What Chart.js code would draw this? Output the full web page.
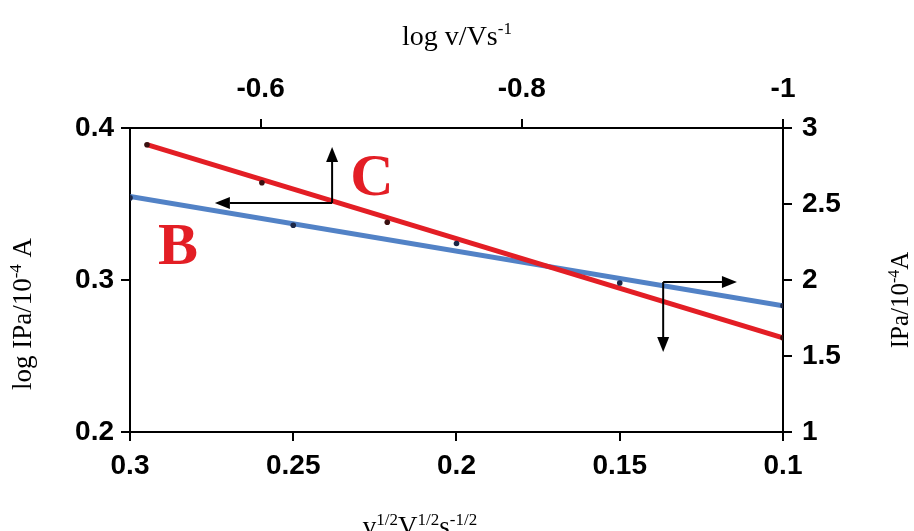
<!DOCTYPE html>
<html>
<head>
<meta charset="utf-8">
<script src="https://cdn.jsdelivr.net/npm/chart.js@4.4.1/dist/chart.umd.min.js"></script>
<style>
  html, body { margin: 0; padding: 0; background: #fff; }
  #wrap { width: 914px; height: 531px; }
</style>
</head>
<body>
<div id="wrap"><canvas id="plot"></canvas></div>
<script>
// curve B : IPa vs v^1/2 (bottom x, right y)
const sqrtRate = [0.3, 0.25, 0.2, 0.15, 0.1];
const peakCurrent = [2.54, 2.36, 2.24, 1.98, 1.83];
// curve C : log IPa vs log v (top x, left y)
const logRate = [-0.513, -0.601, -0.697, -1.0];
const logPeak = [0.389, 0.364, 0.338, 0.262];
// trend line ends
const fitBx = [0.3, 0.1];
const fitBy = [2.55, 1.83];
const fitCx = [-0.513, -1.0];
const fitCy = [0.389, 0.262];

// tick labels
const bottomTicks = [0.1, 0.15, 0.2, 0.25, 0.3];
const topTicks = [-1, -0.8, -0.6];
const leftTicks = [0.2, 0.3, 0.4];
const rightTicks = [1, 1.5, 2, 2.5, 3];

// arrows and letters, in bottom-x / right-y units
const arrows = [
    { x: 0.2381, y: 2.507, toX: 0.2381, toY: 2.875 },
    { x: 0.2381, y: 2.507, toX: 0.274, toY: 2.507 },
    { x: 0.1367, y: 1.987, toX: 0.1141, toY: 1.987 },
    { x: 0.1367, y: 1.987, toX: 0.1367, toY: 1.526 }
];
const letters = [
    { text: 'C', x: 0.2259, y: 2.664 },
    { text: 'B', x: 0.2853, y: 2.204 }
];

const RED = '#e31e25';
const BLUE = '#5282c6';
const tickFont = { family: '"Liberation Sans", Arial', size: 28, weight: 'bold' };

function pts(xs, ys) {
    return xs.map((x, i) => ({ x: x, y: ys[i] }));
}

function fixedTicks(list) {
    return scale => { scale.ticks = list.map(v => ({ value: v })); };
}

function axis(pos, min, max, list, size, pad, extra) {
    return Object.assign({
        type: 'linear',
        position: pos,
        min: min,
        max: max,
        afterBuildTicks: fixedTicks(list),
        afterFit: scale => {
            if (pos === 'left' || pos === 'right') scale.width = size;
            else scale.height = size;
        },
        grid: { drawOnChartArea: false, drawTicks: true, tickLength: 9, color: '#000', lineWidth: 2 },
        border: { display: true, color: '#000', width: 2 },
        ticks: {
            color: '#000',
            font: tickFont,
            padding: pad,
            maxRotation: 0,
            autoSkip: false,
            callback: v => String(Math.round(v * 100) / 100)
        }
    }, extra || {});
}

function richText(ctx, runs, x, y, size, rotate) {
    ctx.save();
    ctx.translate(x, y);
    if (rotate) ctx.rotate(-Math.PI / 2);
    const fontOf = r => (r.sup ? Math.round(size * 0.62) : size) + 'px "Liberation Serif", "Times New Roman", serif';
    let total = 0;
    runs.forEach(r => { ctx.font = fontOf(r); total += ctx.measureText(r.t).width; });
    let cx = -total / 2;
    ctx.fillStyle = '#000';
    ctx.textBaseline = 'alphabetic';
    ctx.textAlign = 'left';
    runs.forEach(r => {
        ctx.font = fontOf(r);
        ctx.fillText(r.t, cx, r.sup ? -size * 0.38 : 0);
        cx += ctx.measureText(r.t).width;
    });
    ctx.restore();
}

const decorPlugin = {
    id: 'decor',
    afterDatasetsDraw(chart) {
        const ctx = chart.ctx;
        const sx = chart.scales.x, sy = chart.scales.y2;

        // arrows
        ctx.save();
        ctx.strokeStyle = '#000';
        ctx.fillStyle = '#000';
        ctx.lineWidth = 2;
        arrows.forEach(a => {
            const x0 = sx.getPixelForValue(a.x), y0 = sy.getPixelForValue(a.y);
            const x1 = sx.getPixelForValue(a.toX), y1 = sy.getPixelForValue(a.toY);
            const ang = Math.atan2(y1 - y0, x1 - x0);
            const head = 15, half = 6;
            ctx.beginPath();
            ctx.moveTo(x0, y0);
            ctx.lineTo(x1 - Math.cos(ang) * head, y1 - Math.sin(ang) * head);
            ctx.stroke();
            ctx.beginPath();
            ctx.moveTo(x1, y1);
            ctx.lineTo(x1 - Math.cos(ang) * head - Math.sin(ang) * half, y1 - Math.sin(ang) * head + Math.cos(ang) * half);
            ctx.lineTo(x1 - Math.cos(ang) * head + Math.sin(ang) * half, y1 - Math.sin(ang) * head - Math.cos(ang) * half);
            ctx.closePath();
            ctx.fill();
        });

        // curve letters
        ctx.fillStyle = RED;
        ctx.font = 'bold 60px "Liberation Serif", "Times New Roman", serif';
        ctx.textAlign = 'center';
        ctx.textBaseline = 'middle';
        letters.forEach(l => {
            ctx.fillText(l.text, sx.getPixelForValue(l.x), sy.getPixelForValue(l.y));
        });
        ctx.restore();
    },
    afterDraw(chart) {
        const ctx = chart.ctx;
        // axis titles
        richText(ctx, [{ t: 'log v/Vs' }, { t: '-1', sup: true }], 457, 45, 28, false);
        richText(ctx, [{ t: 'log IPa/10' }, { t: '-4', sup: true }, { t: ' A' }], 31, 314, 27, true);
        richText(ctx, [{ t: 'IPa/10' }, { t: '-4', sup: true }, { t: 'A' }], 908, 300, 25, true);
        richText(ctx, [{ t: 'v' }, { t: '1/2', sup: true }, { t: 'V' }, { t: '1/2', sup: true }, { t: 's' }, { t: '-1/2', sup: true }], 420, 535, 27, false);
    }
};

new Chart(document.getElementById('plot').getContext('2d'), {
    type: 'scatter',
    data: {
        datasets: [
            {
                label: 'C points',
                data: pts(logRate, logPeak),
                xAxisID: 'x2', yAxisID: 'y',
                pointRadius: 2.8, pointBackgroundColor: '#3a1010', pointBorderWidth: 0
            },
            {
                label: 'B points',
                data: pts(sqrtRate, peakCurrent),
                xAxisID: 'x', yAxisID: 'y2',
                pointRadius: 2.8, pointBackgroundColor: '#1c2848', pointBorderWidth: 0
            },
            {
                label: 'C fit',
                data: pts(fitCx, fitCy),
                xAxisID: 'x2', yAxisID: 'y',
                showLine: true, borderColor: RED, borderWidth: 5, pointRadius: 0
            },
            {
                label: 'B fit',
                data: pts(fitBx, fitBy),
                xAxisID: 'x', yAxisID: 'y2',
                showLine: true, borderColor: BLUE, borderWidth: 5, pointRadius: 0
            }
        ]
    },
    options: {
        responsive: true,
        maintainAspectRatio: false,
        animation: false,
        layout: { padding: 0 },
        plugins: {
            legend: { display: false },
            tooltip: { enabled: false }
        },
        scales: {
            x: axis('bottom', 0.1, 0.3, bottomTicks, 99, 8, { reverse: true }),
            x2: axis('top', -1, -0.5, topTicks, 128, 13, { reverse: true }),
            y: axis('left', 0.2, 0.4, leftTicks, 130, 7),
            y2: axis('right', 1, 3, rightTicks, 131, 10)
        }
    },
    plugins: [decorPlugin]
});
</script>
</body>
</html>
